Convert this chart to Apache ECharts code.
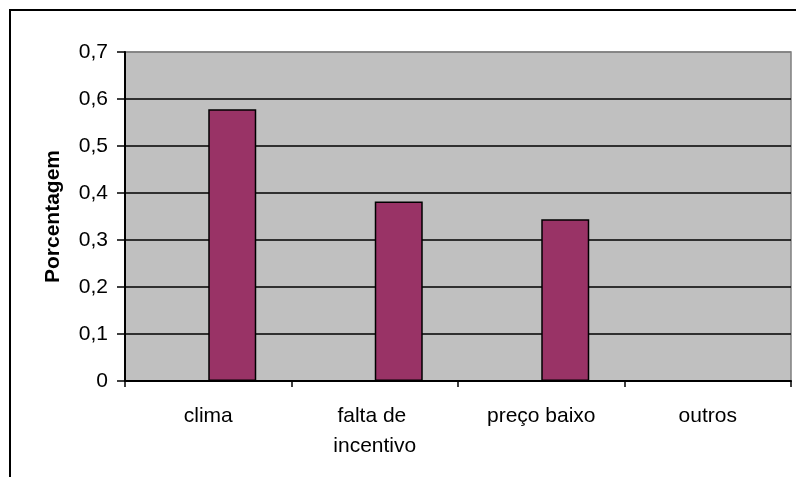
<!DOCTYPE html>
<html>
<head>
<meta charset="utf-8">
<script src="https://cdn.jsdelivr.net/npm/echarts@6/dist/echarts.min.js"></script>
<style>
  html, body { margin: 0; padding: 0; background: #fff; }
  #chart { width: 796px; height: 477px; }
</style>
</head>
<body>
<div id="chart"></div>
<script>
// Motivos apontados, em proporção das respostas
const categories = ['clima', 'falta de incentivo', 'preço baixo', 'outros'];
const emptySeries = [null, null, null, null];
const percentages = [0.578, 0.382, 0.344, null];
const yTickLabels = ['0', '0,1', '0,2', '0,3', '0,4', '0,5', '0,6', '0,7'];

const FONT = '"Liberation Sans", Arial, sans-serif';

const chart = echarts.init(document.getElementById('chart'), null, { renderer: 'canvas' });

chart.setOption({
  animation: false,
  backgroundColor: '#ffffff',
  graphic: [{
    type: 'rect',
    shape: { x: 10, y: 10, width: 820, height: 520 },
    style: { fill: 'none', stroke: '#000000', lineWidth: 2 },
    silent: true,
    z: 100
  }],
  grid: {
    left: 125, top: 52, right: 5, bottom: 96,
    show: true,
    backgroundColor: '#c0c0c0',
    borderColor: '#808080',
    borderWidth: 1.5
  },
  xAxis: {
    type: 'category',
    data: categories,
    axisLine: { lineStyle: { color: '#000', width: 2 } },
    axisTick: { show: true, length: 6, lineStyle: { color: '#000', width: 1.5 } },
    axisLabel: {
      color: '#000',
      fontFamily: FONT,
      fontSize: 21,
      margin: 20,
      lineHeight: 30,
      width: 120,
      overflow: 'break',
      interval: 0
    }
  },
  yAxis: {
    type: 'value',
    min: 0,
    max: 0.7,
    interval: 0.1,
    name: 'Porcentagem',
    nameLocation: 'middle',
    nameRotate: 90,
    nameGap: 61,
    nameTextStyle: { color: '#000', fontFamily: FONT, fontSize: 21, fontWeight: 'bold' },
    axisLine: { show: true, lineStyle: { color: '#000', width: 2 } },
    axisTick: { show: true, length: 8, lineStyle: { color: '#000', width: 1.5 } },
    axisLabel: {
      color: '#000',
      fontFamily: FONT,
      fontSize: 21,
      margin: 17,
      formatter: (v) => yTickLabels[Math.round(v * 10)]
    },
    splitLine: {
      show: true,
      lineStyle: {
        color: ['#000', '#000', '#000', '#000', '#000', '#000', '#000', '#808080'],
        width: 1.5
      }
    }
  },
  series: [
    {
      type: 'bar',
      data: emptySeries,
      barWidth: 48,
      barGap: '0%'
    },
    {
      type: 'bar',
      data: percentages,
      barWidth: 48,
      barGap: '0%',
      itemStyle: { color: '#993366', borderColor: '#000', borderWidth: 1.5 }
    }
  ]
});
</script>
</body>
</html>
